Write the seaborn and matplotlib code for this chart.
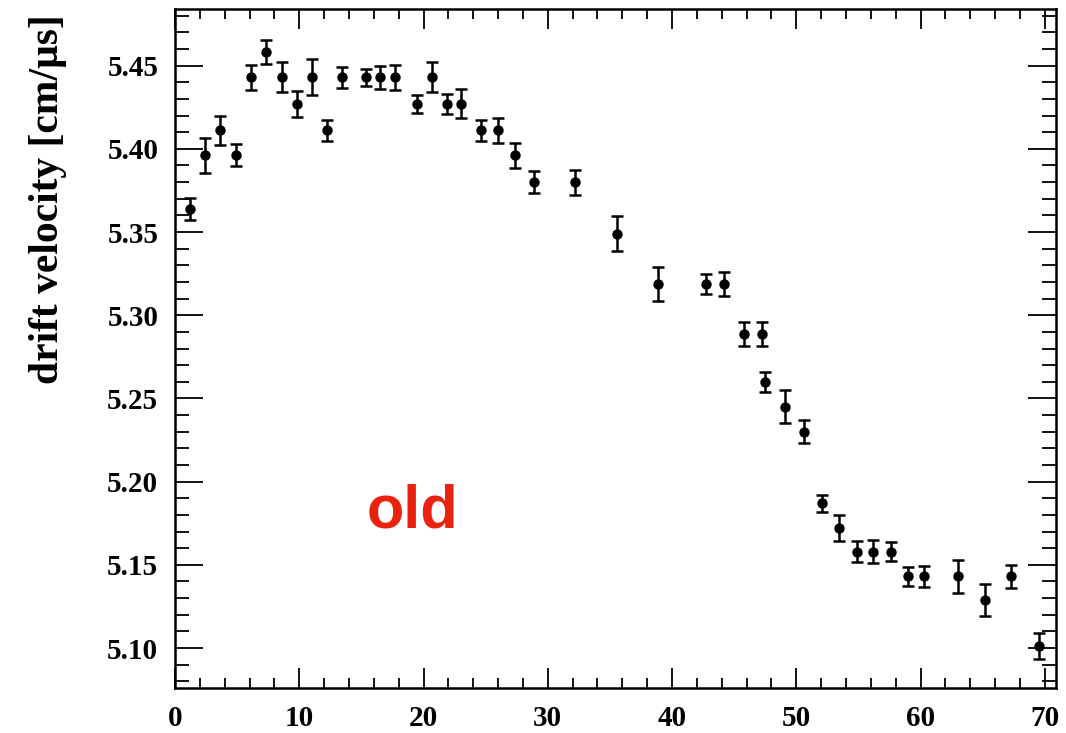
import matplotlib
matplotlib.use("Agg")
import matplotlib.pyplot as plt
from matplotlib.ticker import MultipleLocator
import numpy as np
import pandas as pd
import seaborn as sns

# Measured drift velocity along the chamber
position = [1.2, 2.4, 3.6, 4.9, 6.1, 7.3, 8.6, 9.8, 11.0, 12.2,
            13.4, 15.4, 16.5, 17.7, 19.5, 20.7, 21.9, 23.0, 24.6, 26.0,
            27.4, 28.9, 32.2, 35.6, 38.9, 42.7, 44.2, 45.8, 47.2, 47.5,
            49.1, 50.6, 52.1, 53.4, 54.9, 56.2, 57.6, 59.0, 60.3, 63.0,
            65.2, 67.3, 69.5]
velocity = [5.364, 5.396, 5.411, 5.396, 5.443, 5.458, 5.443, 5.427, 5.443, 5.411,
            5.443, 5.443, 5.443, 5.443, 5.427, 5.443, 5.427, 5.427, 5.411, 5.411,
            5.396, 5.380, 5.380, 5.349, 5.319, 5.319, 5.319, 5.289, 5.289, 5.260,
            5.245, 5.230, 5.187, 5.172, 5.158, 5.158, 5.158, 5.143, 5.143, 5.143,
            5.129, 5.143, 5.101]
velocity_err = [0.0066, 0.0105, 0.0086, 0.0066, 0.0075, 0.0073, 0.0090, 0.0076, 0.0108, 0.0066,
                0.0063, 0.0052, 0.0070, 0.0075, 0.0054, 0.0089, 0.0059, 0.0087, 0.0065, 0.0076,
                0.0075, 0.0068, 0.0075, 0.0104, 0.0102, 0.0060, 0.0072, 0.0072, 0.0072, 0.0060,
                0.0099, 0.0068, 0.0051, 0.0078, 0.0062, 0.0069, 0.0056, 0.0057, 0.0064, 0.0097,
                0.0095, 0.0069, 0.0078]

x_ticks = [0, 10, 20, 30, 40, 50, 60, 70]
y_ticks = [5.10, 5.15, 5.20, 5.25, 5.30, 5.35, 5.40, 5.45]
y_label = "drift velocity [cm/\u03bcs]"
tag = "old"

df = pd.DataFrame({"position": position, "velocity": velocity, "err": velocity_err})

sns.set_theme(style="ticks")
plt.rcParams["font.family"] = ["Liberation Serif", "DejaVu Serif"]
plt.rcParams["font.weight"] = "bold"
plt.rcParams["text.color"] = "black"
plt.rcParams["axes.labelcolor"] = "black"

fig = plt.figure(figsize=(10.66, 7.33), dpi=100)
ax = fig.add_axes([0.1642, 0.0614, 0.8264, 0.9263])

ax.errorbar(df["position"], df["velocity"], yerr=df["err"], fmt="none",
            ecolor="black", elinewidth=1.8, capsize=4.0, capthick=1.8, zorder=2)
sns.scatterplot(data=df, x="position", y="velocity", ax=ax, color="black",
                s=56, edgecolor="black", linewidth=0, zorder=3, legend=False)

ax.set_xlim(0, 70.9)
ax.set_ylim(5.076, 5.484)
ax.set_xticks(x_ticks)
ax.set_xticklabels([str(v) for v in x_ticks])
ax.set_yticks(y_ticks)
ax.set_yticklabels([f"{v:.2f}" for v in y_ticks])
ax.xaxis.set_minor_locator(MultipleLocator(2))
ax.yaxis.set_minor_locator(MultipleLocator(0.01))

ax.tick_params(axis="both", which="both", direction="in", top=True, right=True,
               colors="black", width=1.3)
ax.tick_params(axis="x", which="major", length=14.4, pad=12, labelsize=21)
ax.tick_params(axis="x", which="minor", length=7.2)
ax.tick_params(axis="y", which="major", length=20, pad=12, labelsize=21)
ax.tick_params(axis="y", which="minor", length=10)
for lbl in ax.get_xticklabels() + ax.get_yticklabels():
    lbl.set_fontweight("bold")
    lbl.set_color("black")

for side in ["left", "right", "top", "bottom"]:
    ax.spines[side].set_visible(True)
    ax.spines[side].set_linewidth(1.8)
    ax.spines[side].set_color("black")

ax.set_xlabel("")
ax.set_ylabel(y_label, fontsize=30, fontweight="bold", color="black")
ax.yaxis.set_label_coords(-0.123, 0.72)

ax.text(15.4, 5.1723, tag, color="#E8220F", fontsize=44, fontweight="bold",
        family=["Liberation Sans", "DejaVu Sans"], ha="left", va="baseline")

ax.grid(False)
fig.savefig("out.png", dpi=100, facecolor="white")
